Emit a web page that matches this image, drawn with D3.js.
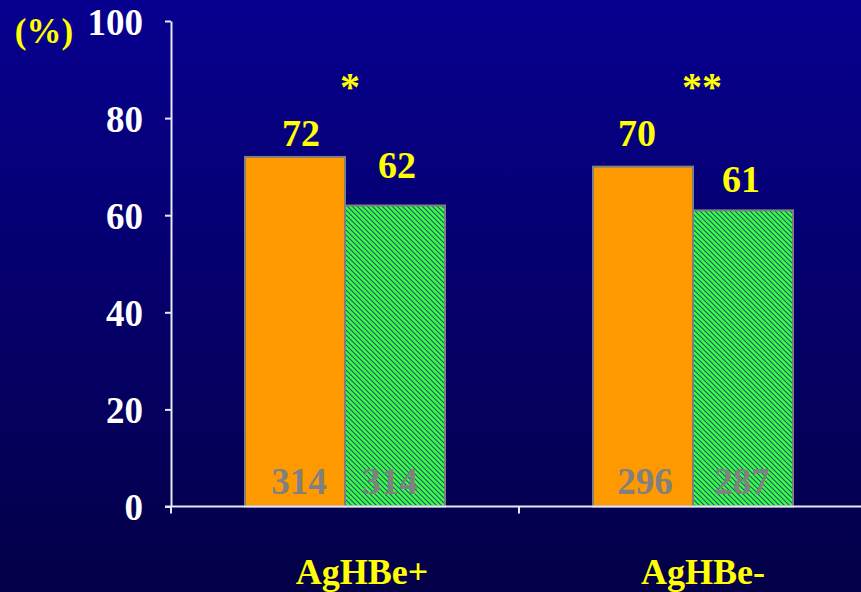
<!DOCTYPE html>
<html>
<head>
<meta charset="utf-8">
<script src="https://cdn.jsdelivr.net/npm/d3@7"></script>
<style>
  html, body { margin: 0; padding: 0; background: #000060; }
  svg { display: block; }
</style>
</head>
<body>
<svg id="chart" width="861" height="592"></svg>
<script>
// Response rates (%) by HBeAg status, two treatment groups
const categories = ["AgHBe+", "AgHBe-"];
const seriesNames = ["groupA", "groupB"];
const valuesA = [72, 70];
const valuesB = [62, 61];
const countsA = [314, 296];
const countsB = [314, 287];
const significance = ["*", "**"];
const yTicks = [0, 20, 40, 60, 80, 100];
const yUnit = "(%)";

const rows = categories.map((c, i) => ({
  cat: c,
  sig: significance[i],
  bars: [
    { key: seriesNames[0], value: valuesA[i], n: countsA[i] },
    { key: seriesNames[1], value: valuesB[i], n: countsB[i] }
  ]
}));

const W = 861, H = 592;
const svg = d3.select("#chart");
const font = "'Liberation Serif', 'Times New Roman', serif";

// background gradient
const defs = svg.append("defs");
const bg = defs.append("linearGradient").attr("id", "bg")
  .attr("x1", 0).attr("y1", 0).attr("x2", 0).attr("y2", 1);
bg.append("stop").attr("offset", "0%").attr("stop-color", "#07008f");
bg.append("stop").attr("offset", "100%").attr("stop-color", "#030047");
svg.append("rect").attr("width", W).attr("height", H).attr("fill", "url(#bg)");

// diagonal hatch for the second series
const hatch = defs.append("pattern").attr("id", "hatch")
  .attr("patternUnits", "userSpaceOnUse").attr("width", 5).attr("height", 5);
hatch.append("rect").attr("width", 5).attr("height", 5).attr("fill", "#38ff38");
hatch.append("path")
  .attr("d", "M0,0L5,5M-1,4L1,6M4,-1L6,1")
  .attr("stroke", "#1f4a8e").attr("stroke-width", 1.05);

// scales
const x0 = d3.scaleBand().domain(categories).range([171, 867]).padding(0);
const x1 = d3.scaleBand().domain(seriesNames).range([0, x0.bandwidth()])
  .paddingInner(0).paddingOuter(0.74);
const y = d3.scaleLinear().domain([0, 100]).range([506.5, 21]);

const fills = { groupA: "#ff9900", groupB: "url(#hatch)" };

// bars
const groups = svg.selectAll("g.cat").data(rows).join("g")
  .attr("class", "cat")
  .attr("transform", d => `translate(${x0(d.cat)},0)`);

groups.selectAll("rect").data(d => d.bars).join("rect")
  .attr("x", b => x1(b.key))
  .attr("y", b => y(b.value))
  .attr("width", x1.bandwidth())
  .attr("height", b => y(0) - y(b.value))
  .attr("fill", b => fills[b.key])
  .attr("stroke", "#7f7f7f")
  .attr("stroke-width", 2);

// sample sizes inside bars
const nShift = [[4, -5], [2, -1]];
groups.each(function (d, ci) {
  d3.select(this).selectAll("text.n").data(d.bars).join("text")
    .attr("class", "n")
    .attr("x", (b, bi) => x1(b.key) + x1.bandwidth() / 2 + nShift[ci][bi])
    .attr("y", y(0) - 13)
    .attr("text-anchor", "middle")
    .attr("font-family", font).attr("font-weight", "bold")
    .attr("font-size", 37).attr("fill", "#808080")
    .text(b => b.n);
});

// value labels above bars (hand-placed lift per label)
const lift = [[11, 27], [21, 18]];
const shift = [[6, 2], [-6, -2]];
groups.each(function (d, ci) {
  d3.select(this).selectAll("text.v").data(d.bars).join("text")
    .attr("class", "v")
    .attr("x", (b, bi) => x1(b.key) + x1.bandwidth() / 2 + shift[ci][bi])
    .attr("y", (b, bi) => y(b.value) - lift[ci][bi])
    .attr("text-anchor", "middle")
    .attr("font-family", font).attr("font-weight", "bold")
    .attr("font-size", 38).attr("fill", "#ffff00")
    .text(b => b.value);
});

// significance markers
groups.append("text")
  .attr("x", (d, i) => x0.bandwidth() / 2 + [5, 9][i])
  .attr("y", 100)
  .attr("text-anchor", "middle")
  .attr("font-family", font).attr("font-weight", "bold")
  .attr("font-size", 40).attr("fill", "#ffff00")
  .text(d => d.sig);

// category labels
groups.append("text")
  .attr("x", (d, i) => x0.bandwidth() / 2 + [17, 10][i])
  .attr("y", 584)
  .attr("text-anchor", "middle")
  .attr("font-family", font).attr("font-weight", "bold")
  .attr("font-size", 36).attr("fill", "#ffff00")
  .text(d => d.cat);

// y axis
const axisColor = "#e8e8f0";
const yAxis = svg.append("g")
  .attr("transform", "translate(171,0)")
  .call(d3.axisLeft(y).tickValues(yTicks).tickSize(6).tickPadding(22).tickSizeOuter(0));
yAxis.select(".domain").attr("stroke", axisColor).attr("stroke-width", 2);
yAxis.selectAll(".tick line").attr("stroke", axisColor).attr("stroke-width", 2);
yAxis.selectAll(".tick text")
  .attr("font-family", font).attr("font-weight", "bold")
  .attr("font-size", 37).attr("fill", "#ffffff")
  .attr("dy", "0.36em");

// x axis line and category dividers
svg.append("line")
  .attr("x1", 165).attr("x2", W)
  .attr("y1", y(0)).attr("y2", y(0))
  .attr("stroke", axisColor).attr("stroke-width", 2);
svg.selectAll("line.xtick").data(categories).join("line")
  .attr("class", "xtick")
  .attr("x1", d => x0(d)).attr("x2", d => x0(d))
  .attr("y1", y(0)).attr("y2", y(0) + 7)
  .attr("stroke", axisColor).attr("stroke-width", 2);

// unit label
svg.append("text")
  .attr("x", 44).attr("y", 43)
  .attr("text-anchor", "middle")
  .attr("font-family", font).attr("font-weight", "bold")
  .attr("font-size", 35).attr("fill", "#ffff00")
  .text(yUnit);
</script>
</body>
</html>
